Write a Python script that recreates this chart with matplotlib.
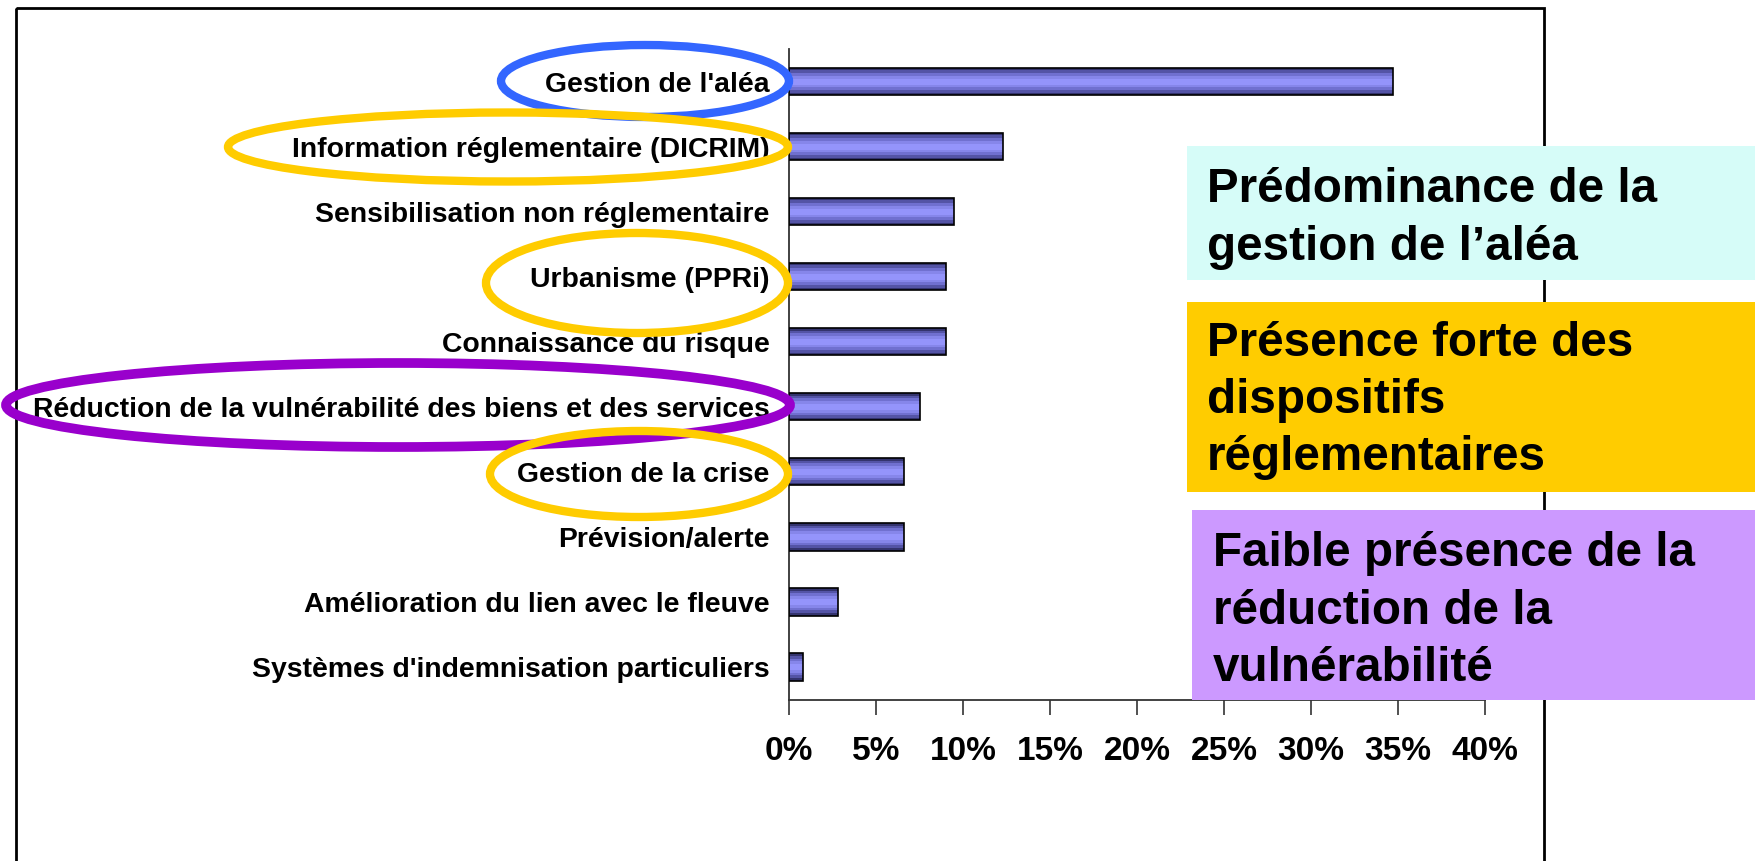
import matplotlib.pyplot as plt
import matplotlib.patches as mpatches
import numpy as np

plt.rcParams['font.family'] = ['Liberation Sans', 'DejaVu Sans']
plt.rcParams['font.weight'] = 'bold'

# data
categories = ["Gestion de l'aléa",
              "Information réglementaire (DICRIM)",
              "Sensibilisation non réglementaire",
              "Urbanisme (PPRi)",
              "Connaissance du risque",
              "Réduction de la vulnérabilité des biens et des services",
              "Gestion de la crise",
              "Prévision/alerte",
              "Amélioration du lien avec le fleuve",
              "Systèmes d'indemnisation particuliers"]
values = [34.7, 12.3, 9.5, 9.0, 9.0, 7.5, 6.6, 6.6, 2.8, 0.8]
xticks = [0, 5, 10, 15, 20, 25, 30, 35, 40]

W, H = 1755, 861
fig = plt.figure(figsize=(W / 100, H / 100), dpi=100)
ax = fig.add_axes([789 / W, 1 - 699.5 / H, (1485 - 789) / W, (699.5 - 49) / H])

y_pos = np.arange(len(categories))
bh = 0.42
# fake gradient: stacked bars, darker at the edges
shades = ['#34346e', '#5454a6', '#7070d0', '#8686ea', '#9494fb']
fracs = [1.0, 0.82, 0.62, 0.42, 0.22]
for c, f in zip(shades, fracs):
    ax.barh(y_pos, values, height=bh * f, color=c, linewidth=0, zorder=2)
ax.barh(y_pos, values, height=bh, color='none', edgecolor='black', linewidth=1.2, zorder=3)

ax.set_ylim(len(categories) - 0.5, -0.5)
ax.set_xlim(0, 40)
ax.set_yticks(y_pos)
ax.set_yticklabels(categories, fontsize=20.4, fontweight='bold')
ax.set_xticks(xticks)
ax.set_xticklabels([f'{t}%' for t in xticks], fontsize=24, fontweight='bold')
ax.tick_params(axis='y', length=0, pad=14)
ax.tick_params(axis='x', length=11, width=1.2, pad=15, color='#333333')
for s in ['top', 'right']:
    ax.spines[s].set_visible(False)
for s in ['left', 'bottom']:
    ax.spines[s].set_color('#333333')
    ax.spines[s].set_linewidth(1.3)

# overlay in pixel coordinates
ov = fig.add_axes([0, 0, 1, 1])
ov.set_xlim(0, W)
ov.set_ylim(H, 0)
ov.axis('off')

# outer frame
ov.add_patch(mpatches.Rectangle((16, 8), 1544 - 16, 900, fill=False,
                                edgecolor='black', linewidth=2, clip_on=False))

# highlight ellipses
ellipses = [((645, 81), 288, 72, '#3366ff', 6),
            ((508, 147), 560, 69, '#ffcc00', 6),
            ((637, 283), 302, 100, '#ffcc00', 6),
            ((398, 405), 784, 84, '#9900cc', 7),
            ((639, 474), 298, 86, '#ffcc00', 6)]
for (cx, cy), ew, eh, col, lw in ellipses:
    ov.add_patch(mpatches.Ellipse((cx, cy), ew, eh, fill=False, edgecolor=col,
                                  linewidth=lw, zorder=5))

# coloured comment boxes
boxes = [(1187, 146, 280, '#d6fcf8', 1207,
          ['Prédominance de la', 'gestion de l’aléa'], [202, 260]),
         (1187, 302, 492, '#ffcc00', 1207,
          ['Présence forte des', 'dispositifs', 'réglementaires'], [356, 413, 470]),
         (1192, 510, 700, '#cc99ff', 1213,
          ['Faible présence de la', 'réduction de la', 'vulnérabilité'], [566, 624, 681])]
for x0, y0, y1, col, tx, lines, bases in boxes:
    ov.add_patch(mpatches.Rectangle((x0, y0), W - x0 + 5, y1 - y0, facecolor=col,
                                    edgecolor='none', zorder=6, clip_on=False))
    for line, b in zip(lines, bases):
        ov.text(tx, b, line, fontsize=34.3, fontweight='bold', va='baseline',
                ha='left', zorder=7)

fig.savefig('out.png', dpi=100)
